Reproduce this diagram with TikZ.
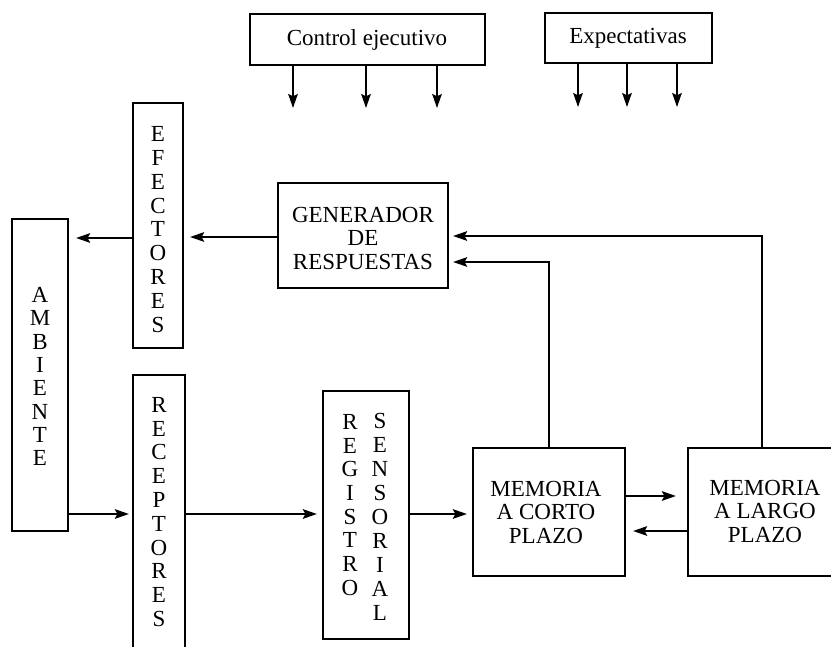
\documentclass[tikz,border=0pt]{standalone}
\usepackage{fontspec}
\setmainfont{Liberation Serif}
\usetikzlibrary{arrows.meta,fit}
\begin{document}
\begin{tikzpicture}[x=0.5pt,y=-0.5pt,
  box/.style={draw, line width=1.1pt, inner sep=0pt},
  txt/.style={inner sep=0pt, align=center, font=\fontsize{11.5}{11.75}\selectfont},
  letters/.style={inner sep=0pt, align=center, font=\fontsize{11.5}{#1}\selectfont},
  arr/.style={line width=0.8pt, -{Stealth[length=7pt,width=4.8pt,inset=1.2pt]}}]
\useasboundingbox (0,0) rectangle (831,647);
\clip (0,0) rectangle (831,647);

% top boxes
\node[box, fit={(250,14) (485,65)}] (ctrl) {};
\node[txt] (ctrl-t) at (367,40) {Control ejecutivo};
\node[box, fit={(545,13) (712,63)}] (expe) {};
\node[txt] (expe-t) at (628,38) {Expectativas};

% vertical boxes
\node[box, fit={(133,103) (183,348)}] (efe) {};
\node[letters=11.95pt] (efe-t) at (158,229.5) {E\\F\\E\\C\\T\\O\\R\\E\\S};
\node[box, fit={(12,219) (68,531)}] (amb) {};
\node[letters=11.64pt] (amb-t) at (40,376.5) {A\\M\\B\\I\\E\\N\\T\\E};
\node[box, fit={(133,375) (185,680)}] (rec) {};
\node[letters=11.9pt] (rec-t) at (159,512) {R\\E\\C\\E\\P\\T\\O\\R\\E\\S};
\node[box, fit={(323,391) (409,639)}] (reg) {};
\node[letters=11.85pt] (reg-a) at (350,505) {R\\E\\G\\I\\S\\T\\R\\O};
\node[letters=12pt] (reg-b) at (380,517) {S\\E\\N\\S\\O\\R\\I\\A\\L};

% processing boxes
\node[box, fit={(278,183) (448,288)}] (gen) {};
\node[txt] (gen-t) at (363,238) {GENERADOR\\DE\\RESPUESTAS};
\node[box, fit={(473,448) (625,576)}] (stm) {};
\node[txt] (stm-t) at (546,512) {MEMORIA\\A CORTO\\PLAZO};
\node[box, fit={(688,448) (842,576)}] (ltm) {};
\node[txt] (ltm-t) at (765,511) {MEMORIA\\A LARGO\\PLAZO};

% helper rows and columns
\coordinate (rA) at (0,238);
\coordinate (rG) at (0,237);
\coordinate (rB) at (0,236);
\coordinate (rC) at (0,262);
\coordinate (rD) at (0,514);
\coordinate (rE) at (0,496);
\coordinate (rF) at (0,531);
\coordinate (cL) at (762,0);

% influences from the top boxes
\foreach \x [count=\i] in {293,366,437} {
  \coordinate (ce\i) at (\x,108);
  \draw[arr] (ctrl.south -| ce\i) -- (ce\i);
}
\foreach \x [count=\i] in {578,627,677} {
  \coordinate (ex\i) at (\x,107);
  \draw[arr] (expe.south -| ex\i) -- (ex\i);
}

% output path
\draw[arr, shorten >=3.5pt] (efe.west |- rA) -- (amb.east |- rA);
\draw[arr, shorten >=3pt] (gen.west |- rG) -- (efe.east |- rG);

% feedback from memories
\draw[arr, shorten >=2pt] (ltm.north -| cL) |- (gen.east |- rB);
\draw[arr, shorten >=2pt] (stm.north) |- (gen.east |- rC);

% input path
\draw[arr, shorten >=1.5pt] (amb.east |- rD) -- (rec.west |- rD);
\draw[arr, shorten >=2.5pt] (rec.east |- rD) -- (reg.west |- rD);
\draw[arr, shorten >=2.5pt] (reg.east |- rD) -- (stm.west |- rD);

% exchange between memories
\draw[arr, shorten >=5.5pt] (stm.east |- rE) -- (ltm.west |- rE);
\draw[arr, shorten >=3.5pt] (ltm.west |- rF) -- (stm.east |- rF);
\end{tikzpicture}
\end{document}
